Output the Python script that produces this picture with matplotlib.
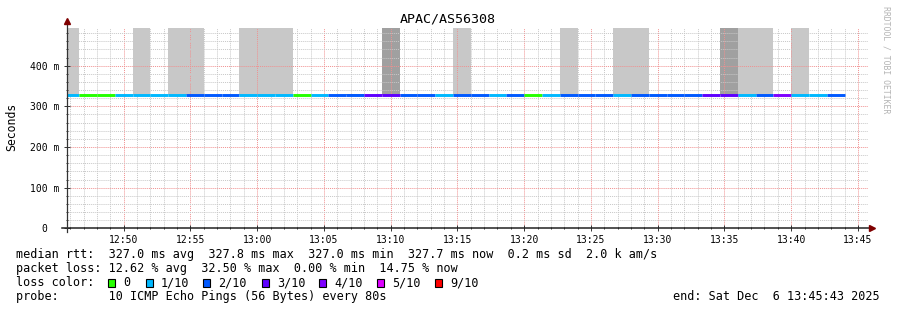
import datetime as dt
import matplotlib
matplotlib.use('Agg')
import matplotlib.pyplot as plt
import matplotlib.dates as mdates
from matplotlib.patches import Rectangle

# smokeping style latency graph, one hour, 80 s steps
title = 'APAC/AS56308'
first_step = dt.datetime(2025, 12, 6, 12, 45, 20)
step_sec = 80
t_start = dt.datetime(2025, 12, 6, 12, 45, 43)
t_end = dt.datetime(2025, 12, 6, 13, 45, 43)

# median rtt per step (seconds)
median = [0.3270, 0.3270, 0.3270, 0.3270, 0.3270, 0.3270, 0.3270, 0.3270, 0.3270, 0.3270, 0.3270,
          0.3270, 0.3270, 0.3270, 0.3270, 0.3270, 0.3278, 0.3270, 0.3270, 0.3270, 0.3270, 0.3270,
          0.3270, 0.3270, 0.3270, 0.3270, 0.3270, 0.3270, 0.3270, 0.3270, 0.3270, 0.3270, 0.3270,
          0.3270, 0.3270, 0.3270, 0.3270, 0.3270, 0.3270, 0.3270, 0.3270, 0.3270, 0.3270, 0.3277]
# lost pings (of 10) per step
loss = [1, 0, 0, 1, 1, 1, 1, 2, 2, 2, 1, 1, 1, 0, 1, 2, 2, 3, 3, 2, 2, 1,
        2, 2, 1, 2, 0, 1, 2, 2, 2, 1, 2, 2, 2, 2, 3, 3, 1, 2, 4, 1, 1, 2]
# smoke top per step (seconds, 0 = none) and its shade
smoke_top = [0.494, 0, 0, 0, 0.494, 0, 0.494, 0.494, 0, 0, 0.494, 0.494, 0.494, 0, 0, 0, 0.3295, 0, 0.494, 0, 0, 0,
             0.494, 0, 0, 0, 0, 0, 0.494, 0, 0, 0.494, 0.494, 0, 0, 0, 0, 0.494, 0.494, 0.494, 0, 0.494, 0, 0]
smoke_shade = ['l', '', '', '', 'l', '', 'l', 'l', '', '', 'l', 'l', 'l', '', '', '', 'm', '', 'd', '', '', '',
               'l', '', '', '', '', '', 'l', '', '', 'l', 'l', '', '', '', '', 'd', 'l', 'l', '', 'l', '', '']

loss_colors = {0: '#26ff00', 1: '#00b8ff', 2: '#0059ff', 3: '#5e00ff', 4: '#7e00ff', 5: '#dd00ff', 9: '#ff0000'}
loss_labels = ['0', '1/10', '2/10', '3/10', '4/10', '5/10', '9/10']
loss_keys = [0, 1, 2, 3, 4, 5, 9]
shades = {'l': '#c8c8c8', 'd': '#a0a0a0', 'm': '#8c8c8c'}

line_rtt = 'median rtt:  327.0 ms avg  327.8 ms max  327.0 ms min  327.7 ms now  0.2 ms sd  2.0 k am/s'
line_loss = 'packet loss: 12.62 % avg  32.50 % max  0.00 % min  14.75 % now'
line_probe = 'probe:       10 ICMP Echo Pings (56 Bytes) every 80s'
end_txt = 'end: Sat Dec  6 13:45:43 2025'

W, H = 897, 310
fig = plt.figure(figsize=(W / 100, H / 100), dpi=100)
ax = fig.add_axes([66.5 / W, (H - 228.3) / H, 801 / W, (228.3 - 27.5) / H])

mono = 'DejaVu Sans Mono'
starts = [first_step + dt.timedelta(seconds=step_sec * i) for i in range(len(loss))]
ends = [s + dt.timedelta(seconds=step_sec) for s in starts]
xs = mdates.date2num(starts)
xe = mdates.date2num(ends)

for i in range(len(loss)):
    if smoke_top[i] > 0:
        ax.bar(xs[i], smoke_top[i] - median[i], width=xe[i] - xs[i], bottom=median[i], align='edge',
               color=shades[smoke_shade[i]], linewidth=0, zorder=1)
ax.hlines(median, xs, xe, colors=[loss_colors[l] for l in loss], linewidth=2.1, zorder=3)

ax.set_xlim(mdates.date2num(t_start), mdates.date2num(t_end))
ax.set_ylim(0, 0.494)

ax.xaxis.set_major_locator(mdates.MinuteLocator(byminute=range(0, 60, 5)))
ax.xaxis.set_minor_locator(mdates.MinuteLocator())
ax.xaxis.set_major_formatter(mdates.DateFormatter('%H:%M'))
yt = [0, 0.1, 0.2, 0.3, 0.4]
ax.set_yticks(yt)
ax.set_yticklabels(['0  '] + ['%d m' % round(v * 1000) for v in yt[1:]])
ax.set_yticks([i * 0.02 for i in range(25)], minor=True)

ax.set_axisbelow(False)
ax.grid(which='minor', color='#c8c8c8', linestyle=(0, (1, 1)), linewidth=0.7)
ax.grid(which='major', color='#f09090', linestyle=(0, (1, 1)), linewidth=0.7)
for s in ax.spines.values():
    s.set_visible(False)
ax.tick_params(which='both', direction='inout', colors='#333333', labelcolor='black', labelsize=7.05,
               width=0.7, pad=3)
ax.tick_params(which='major', length=4)
ax.tick_params(which='minor', length=2)
for lab in ax.get_xticklabels() + ax.get_yticklabels():
    lab.set_family(mono)

# axes with arrows
ax.plot([-4.5 / 801, 1.006], [0, 0], transform=ax.transAxes, color='#222222', lw=1.1, clip_on=False, zorder=5)
ax.plot([0, 0], [-4 / 200.8, 1.03], transform=ax.transAxes, color='#333333', lw=0.9, clip_on=False, zorder=5)
ax.plot([1.006], [0], transform=ax.transAxes, marker='>', color='#7f0000', ms=4, clip_on=False, zorder=6)
ax.plot([0], [1.03], transform=ax.transAxes, marker='^', color='#7f0000', ms=4, clip_on=False, zorder=6)

fig.text(448 / W, 1 - 19 / H, title, family=mono, fontsize=9.6, ha='center', va='center')
fig.text(12 / W, 1 - 127 / H, 'Seconds', family=mono, fontsize=8.3, rotation=90, ha='center', va='center')
fig.text(886 / W, 1 - 60 / H, 'RRDTOOL / TOBI OETIKER', family=mono, fontsize=5.9, rotation=270,
         ha='center', va='center', color='#b4b4b4')

fs = 8.49
fig.text(16 / W, 1 - 254.5 / H, line_rtt, family=mono, fontsize=fs, va='center')
fig.text(16 / W, 1 - 268.5 / H, line_loss, family=mono, fontsize=fs, va='center')
fig.text(16 / W, 1 - 282.5 / H, 'loss color:', family=mono, fontsize=fs, va='center')
fig.text(16 / W, 1 - 296.5 / H, line_probe, family=mono, fontsize=fs, va='center')
fig.text(880 / W, 1 - 296.5 / H, end_txt, family=mono, fontsize=fs, va='center', ha='right')

box_x = [108, 146, 203, 262, 319, 377, 435]
for k, lab, x in zip(loss_keys, loss_labels, box_x):
    fig.patches.append(Rectangle((x / W, 1 - 287 / H), 7 / W, 8 / H, transform=fig.transFigure,
                                 facecolor=loss_colors[k], edgecolor='black', linewidth=0.8))
    fig.text((x + 15) / W, 1 - 282.5 / H, lab, family=mono, fontsize=fs, va='center')

fig.savefig('out.png', dpi=100)
